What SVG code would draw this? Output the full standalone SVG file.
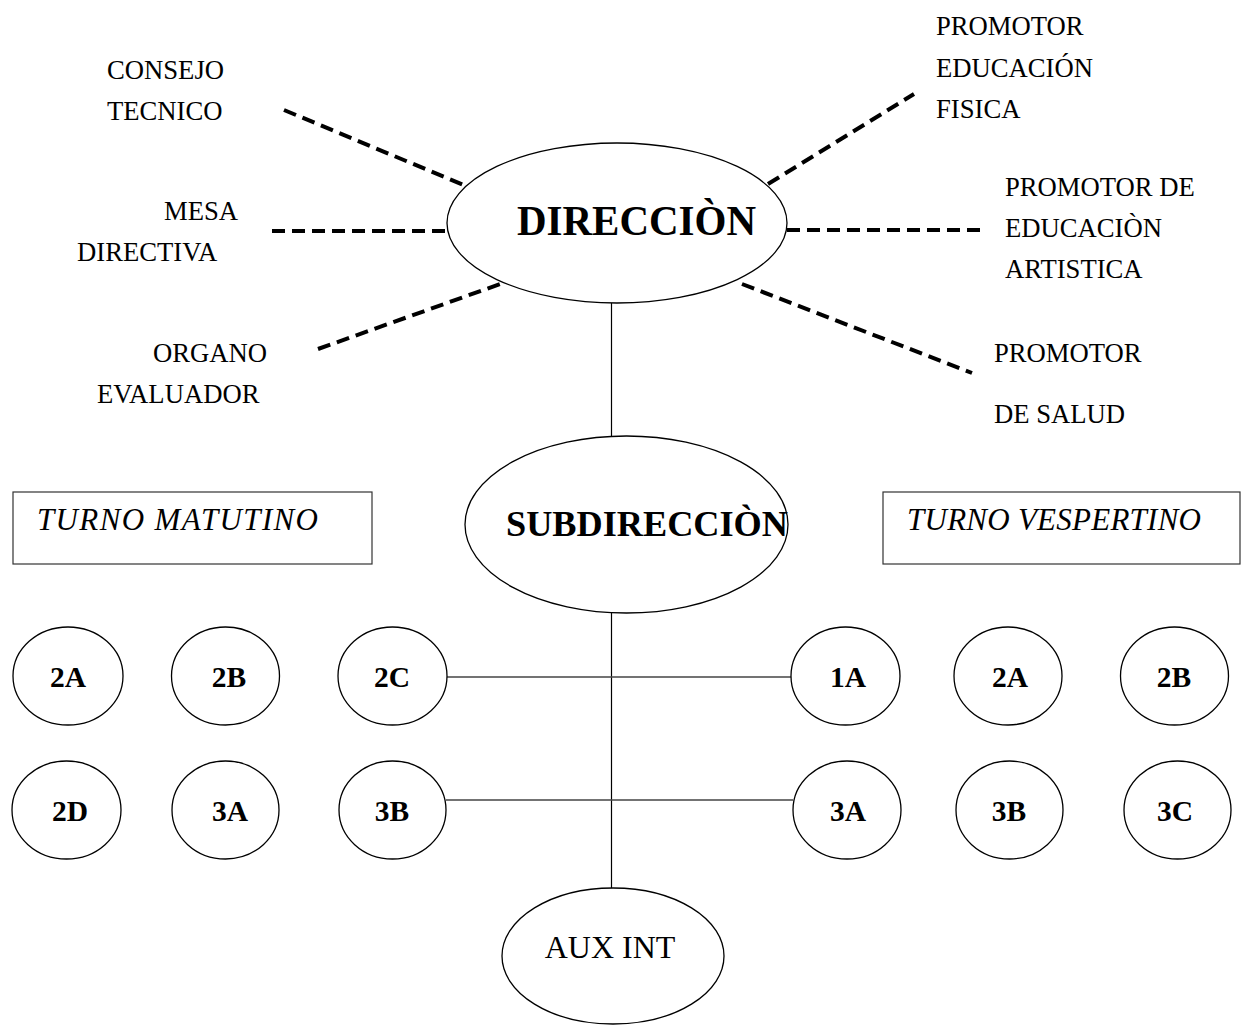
<svg xmlns="http://www.w3.org/2000/svg" width="1243" height="1030" viewBox="0 0 1243 1030">
<style>
  .shape { fill: #ffffff; stroke: #000000; stroke-width: 1.3; }
  .box { fill: #ffffff; stroke: #333333; stroke-width: 1.2; }
  .lbl { font-family: "Liberation Serif", "Times New Roman", serif; font-size: 26.67px; fill: #000000; }
  .aux { font-family: "Liberation Serif", "Times New Roman", serif; font-size: 32px; fill: #000000; text-anchor: middle; }
  .big { font-family: "Liberation Serif", "Times New Roman", serif; font-weight: bold; fill: #000000; text-anchor: middle; }
  .cls { font-family: "Liberation Serif", "Times New Roman", serif; font-weight: bold; font-size: 29.5px; fill: #000000; text-anchor: middle; }
  .turno { font-family: "Liberation Serif", "Times New Roman", serif; font-style: italic; font-size: 31px; fill: #000000; }
  .dash { stroke: #000000; stroke-width: 4; stroke-dasharray: 13 7; fill: none; }
  .solid { stroke: #000000; stroke-width: 1.2; fill: none; }
  .hsolid { stroke: #444444; stroke-width: 1.6; fill: none; }
</style>
<rect width="1243" height="1030" fill="#ffffff"/>

<g id="connectors">
  <line class="dash" x1="284" y1="110" x2="466" y2="186"/>
  <line class="dash" x1="272" y1="231" x2="446" y2="231"/>
  <line class="dash" x1="318" y1="349" x2="503" y2="283"/>
  <line class="dash" x1="768" y1="184" x2="914" y2="94"/>
  <line class="dash" x1="787" y1="230" x2="980" y2="230"/>
  <line class="dash" x1="742" y1="284" x2="972" y2="373"/>
  <line class="solid" x1="611.5" y1="303" x2="611.5" y2="436"/>
  <line class="solid" x1="611.5" y1="613" x2="611.5" y2="888"/>
  <line class="hsolid" x1="447" y1="677" x2="791" y2="677"/>
  <line class="hsolid" x1="446" y1="800" x2="793" y2="800"/>
</g>

<g id="consejo-tecnico">
  <text class="lbl" x="107" y="79">CONSEJO</text>
  <text class="lbl" x="107" y="120">TECNICO</text>
</g>
<g id="mesa-directiva">
  <text class="lbl" x="164" y="220">MESA</text>
  <text class="lbl" x="77" y="261">DIRECTIVA</text>
</g>
<g id="organo-evaluador">
  <text class="lbl" x="153" y="362">ORGANO</text>
  <text class="lbl" x="97" y="403">EVALUADOR</text>
</g>
<g id="promotor-fisica">
  <text class="lbl" x="936" y="35">PROMOTOR</text>
  <text class="lbl" x="936" y="77">EDUCACIÓN</text>
  <text class="lbl" x="936" y="118">FISICA</text>
</g>
<g id="promotor-artistica">
  <text class="lbl" x="1005" y="196">PROMOTOR DE</text>
  <text class="lbl" x="1005" y="237">EDUCACIÒN</text>
  <text class="lbl" x="1005" y="278">ARTISTICA</text>
</g>
<g id="promotor-salud">
  <text class="lbl" x="994" y="362">PROMOTOR</text>
  <text class="lbl" x="994" y="423">DE SALUD</text>
</g>

<g id="direccion">
  <ellipse class="shape" cx="617" cy="223" rx="170" ry="80"/>
  <text class="big" x="636.5" y="235" style="font-size:42px" textLength="239" lengthAdjust="spacingAndGlyphs">DIRECCIÒN</text>
</g>
<g id="subdireccion">
  <ellipse class="shape" cx="626.5" cy="524.5" rx="161.5" ry="88.5"/>
  <text class="big" x="647" y="536" style="font-size:36px" textLength="282" lengthAdjust="spacingAndGlyphs">SUBDIRECCIÒN</text>
</g>

<g id="turno-matutino">
  <rect class="box" x="13" y="492" width="359" height="72"/>
  <text class="turno" x="37" y="530" textLength="281" lengthAdjust="spacing">TURNO MATUTINO</text>
</g>
<g id="turno-vespertino">
  <rect class="box" x="883" y="492" width="357" height="72"/>
  <text class="turno" x="907" y="530" textLength="294" lengthAdjust="spacing">TURNO VESPERTINO</text>
</g>

<g id="m-2a"><ellipse class="shape" cx="68" cy="676" rx="55" ry="49"/><text class="cls" x="68" y="687">2A</text></g>
<g id="m-2b"><ellipse class="shape" cx="225.5" cy="676" rx="54" ry="49"/><text class="cls" x="229" y="687">2B</text></g>
<g id="m-2c"><ellipse class="shape" cx="392.5" cy="676" rx="54.5" ry="49"/><text class="cls" x="392" y="687">2C</text></g>
<g id="v-1a"><ellipse class="shape" cx="845.5" cy="676" rx="54.5" ry="49"/><text class="cls" x="848" y="687">1A</text></g>
<g id="v-2a"><ellipse class="shape" cx="1008" cy="676" rx="54" ry="49"/><text class="cls" x="1010" y="687">2A</text></g>
<g id="v-2b"><ellipse class="shape" cx="1174.5" cy="676" rx="54" ry="49"/><text class="cls" x="1174" y="687">2B</text></g>

<g id="m-2d"><ellipse class="shape" cx="66.5" cy="810" rx="54.5" ry="49"/><text class="cls" x="70" y="821">2D</text></g>
<g id="m-3a"><ellipse class="shape" cx="225.5" cy="810" rx="53.5" ry="49"/><text class="cls" x="230" y="821">3A</text></g>
<g id="m-3b"><ellipse class="shape" cx="392.5" cy="810" rx="53.5" ry="49"/><text class="cls" x="392" y="821">3B</text></g>
<g id="v-3a"><ellipse class="shape" cx="847" cy="810" rx="54" ry="49"/><text class="cls" x="848" y="821">3A</text></g>
<g id="v-3b"><ellipse class="shape" cx="1009.5" cy="810" rx="53.5" ry="49"/><text class="cls" x="1009" y="821">3B</text></g>
<g id="v-3c"><ellipse class="shape" cx="1177.5" cy="810" rx="53.5" ry="49"/><text class="cls" x="1175" y="821">3C</text></g>

<g id="aux-int">
  <ellipse class="shape" cx="613" cy="956" rx="111" ry="68"/>
  <text class="aux" x="610" y="958">AUX INT</text>
</g>
</svg>
